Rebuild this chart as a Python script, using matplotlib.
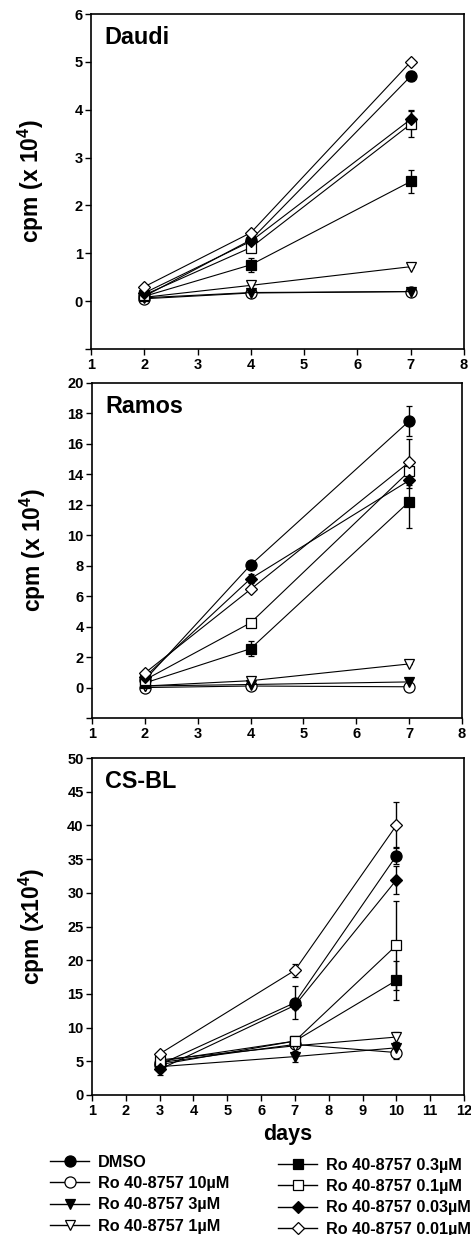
import matplotlib
matplotlib.use("Agg")
import matplotlib.pyplot as plt
from matplotlib.lines import Line2D

plt.rcParams['font.family'] = ['Liberation Sans', 'DejaVu Sans']
plt.rcParams['font.weight'] = 'bold'
plt.rcParams['mathtext.fontset'] = 'custom'
plt.rcParams['mathtext.rm'] = 'Liberation Sans:bold'
plt.rcParams['mathtext.bf'] = 'Liberation Sans:bold'
plt.rcParams['mathtext.default'] = 'rm'

# Series (same order in every panel)
labels = ['DMSO', 'Ro 40-8757 10µM', 'Ro 40-8757 3µM', 'Ro 40-8757 1µM',
          'Ro 40-8757 0.3µM', 'Ro 40-8757 0.1µM', 'Ro 40-8757 0.03µM',
          'Ro 40-8757 0.01µM']
markers = ['o', 'o', 'v', 'v', 's', 's', 'D', 'D']
faces = ['k', 'w', 'k', 'w', 'k', 'w', 'k', 'w']
msizes = [8, 8, 7, 7, 7, 7, 6, 6]

# Daudi
daudi_days = [2, 4, 7]
daudi_values = [
    [0.10, 1.28, 4.70],
    [0.05, 0.17, 0.20],
    [0.07, 0.18, 0.20],
    [0.08, 0.33, 0.72],
    [0.10, 0.76, 2.50],
    [0.13, 1.12, 3.70],
    [0.17, 1.25, 3.80],
    [0.30, 1.43, 5.00],
]
daudi_errors = [
    [0, 0.05, 0.10],
    [0, 0, 0],
    [0, 0, 0],
    [0, 0, 0],
    [0, 0.15, 0.25],
    [0, 0.10, 0.28],
    [0, 0.05, 0.20],
    [0, 0, 0],
]

# Ramos
ramos_days = [2, 4, 7]
ramos_values = [
    [0.50, 8.05, 17.5],
    [0.00, 0.10, 0.05],
    [0.10, 0.20, 0.37],
    [0.10, 0.45, 1.55],
    [0.30, 2.55, 12.2],
    [0.50, 4.25, 14.2],
    [0.70, 7.15, 13.6],
    [0.95, 6.45, 14.8],
]
ramos_errors = [
    [0, 0, 1.0],
    [0, 0, 0],
    [0, 0, 0],
    [0, 0, 0],
    [0, 0.5, 1.75],
    [0, 0, 0.4],
    [0, 0.3, 0.5],
    [0, 0, 1.5],
]

# CS-BL
csbl_days = [3, 7, 10]
csbl_values = [
    [4.5, 13.7, 35.5],
    [4.8, 7.5, 6.3],
    [4.2, 5.7, 7.0],
    [5.2, 7.3, 8.6],
    [4.5, 8.0, 17.0],
    [5.0, 8.0, 22.2],
    [3.8, 13.3, 31.9],
    [6.1, 18.5, 40.0],
]
csbl_errors = [
    [0.5, 2.4, 1.3],
    [0, 0.3, 1.0],
    [0, 0.8, 0.8],
    [0, 0.5, 0.7],
    [0, 0.5, 2.9],
    [0, 0.3, 6.6],
    [0.8, 0.5, 2.1],
    [0.3, 1.0, 3.4],
]

fig = plt.figure(figsize=(4.71, 12.35), dpi=100)

W, H = 471, 1235
def px_axes(left, top, right, bottom):
    return fig.add_axes([left / W, 1 - bottom / H, (right - left) / W, (bottom - top) / H])

ax1 = px_axes(91, 14, 464, 349)
ax2 = px_axes(92, 383, 462, 718)
ax3 = px_axes(92, 758, 464, 1095)

panels = [
    (ax1, daudi_days, daudi_values, daudi_errors, 'Daudi', (1, 8), (-1, 6),
     range(1, 9), range(-1, 7), 'cpm (x 10$^4$)'),
    (ax2, ramos_days, ramos_values, ramos_errors, 'Ramos', (1, 8), (-2, 20),
     range(1, 9), range(-2, 21, 2), 'cpm (x 10$^4$)'),
    (ax3, csbl_days, csbl_values, csbl_errors, 'CS-BL', (1, 12), (0, 50),
     range(1, 13), range(0, 51, 5), 'cpm (x10$^4$)'),
]

for ax, days, values, errors, name, xl, yl, xt, yt, ylab in panels:
    for vals, errs, m, fc, ms in zip(values, errors, markers, faces, msizes):
        ax.errorbar(days, vals, yerr=errs, color='k', lw=0.8, marker=m, ms=ms,
                    mfc=fc, mec='k', mew=0.9, elinewidth=1.0, capsize=2.5,
                    capthick=1.0)
    ax.set_xlim(*xl)
    ax.set_ylim(*yl)
    ax.set_xticks(list(xt))
    ax.set_yticks(list(yt))
    ylabels = [str(v) if v >= 0 else '' for v in yt]
    ax.set_yticklabels(ylabels)
    ax.tick_params(direction='out', length=4, width=1.0, labelsize=10.5, pad=2,
                   top=False, right=False)
    ax.tick_params(axis='x', pad=2.5)
    for s in ax.spines.values():
        s.set_linewidth(1.2)
    ax.text(0.035, 0.965, name, transform=ax.transAxes, ha='left', va='top',
            fontsize=16.8, fontweight='bold')
    ax.set_ylabel(ylab, fontsize=16.5, fontweight='bold')
    ax.yaxis.set_label_coords(-0.12, 0.5)

ax3.set_xlabel('days', fontsize=15.5, fontweight='bold')
ax3.xaxis.set_label_coords(0.527, -0.085)

handles = [Line2D([], [], color='k', lw=1.0, marker=m, ms=ms, mfc=fc, mec='k', mew=0.9)
           for m, fc, ms in zip(markers, faces, msizes)]

leg_kw = dict(frameon=False, fontsize=11.7, handlelength=2.4, handletextpad=0.55,
              labelspacing=0.38, borderpad=0, borderaxespad=0, loc='upper left')
fig.legend(handles[:4], labels[:4], bbox_to_anchor=(50 / W, 1 - 1155 / H), **leg_kw)
fig.legend(handles[4:], labels[4:], bbox_to_anchor=(278 / W, 1 - 1158 / H), **leg_kw)

fig.savefig('out.png', dpi=100)
